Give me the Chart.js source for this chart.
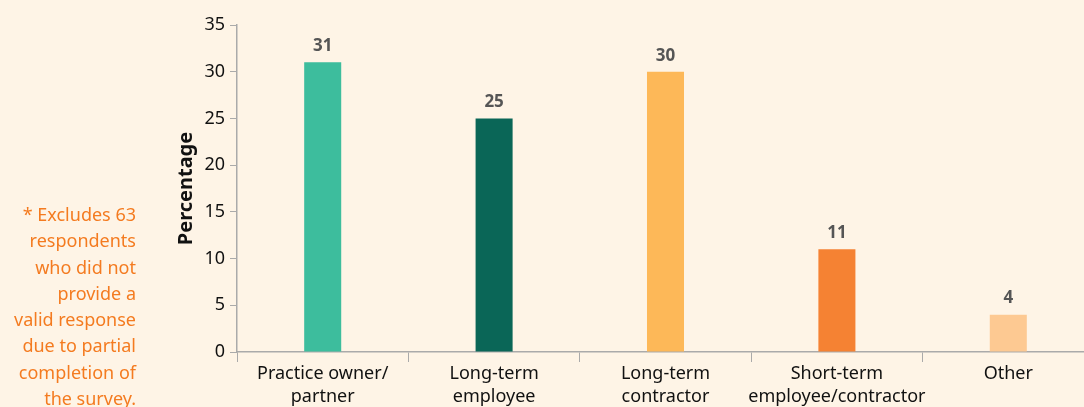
<!DOCTYPE html>
<html>
<head>
<meta charset="utf-8">
<script src="https://cdn.jsdelivr.net/npm/chart.js@4"></script>
<style>
  html, body { margin: 0; padding: 0; background: #fef4e6; overflow: hidden; }
  #wrap { position: relative; width: 1084px; height: 407px; overflow: hidden; }
  #chart { position: absolute; left: 0; top: 0; }
  #note {
    position: absolute; left: 0; top: 201px; width: 136px;
    text-align: right; color: #f47b20;
    font-family: 'Noto Sans', sans-serif; font-size: 18px; line-height: 26.3px;
    white-space: nowrap;
  }
</style>
</head>
<body>
<div id="wrap">
  <canvas id="chart" width="1096" height="407"></canvas>
  <div id="note">* Excludes 63<br>respondents<br>who did not<br>provide a<br>valid response<br>due to partial<br>completion of<br>the survey.</div>
</div>
<script>
// Data
const categories = [
    ['Practice owner/', 'partner'],
    ['Long-term', 'employee'],
    ['Long-term', 'contractor'],
    ['Short-term', 'employee/contractor'],
    'Other'
];
const percentages = [31, 25, 30, 11, 4];
const barColors = ['#3dbd9d', '#0a6657', '#fdb858', '#f58233', '#fdc992'];
const yTicks = [0, 5, 10, 15, 20, 25, 30, 35];

// Value labels above each bar
const valueLabels = {
    id: 'valueLabels',
    afterDatasetsDraw(chart) {
        const ctx = chart.ctx;
        const meta = chart.getDatasetMeta(0);
        ctx.save();
        ctx.font = 'bold 17px "Noto Sans", sans-serif';
        ctx.fillStyle = '#555555';
        ctx.textAlign = 'center';
        ctx.textBaseline = 'middle';
        meta.data.forEach((bar, i) => {
            ctx.fillText(percentages[i], bar.x, bar.y - 16);
        });
        ctx.restore();
    }
};

const ctx = document.getElementById('chart').getContext('2d');
const chart = new Chart(ctx, {
    type: 'bar',
    data: {
        labels: categories,
        datasets: [{
            data: percentages,
            backgroundColor: barColors,
            barPercentage: 0.216,
            categoryPercentage: 1
        }]
    },
    options: {
        responsive: false,
        animation: false,
        layout: { padding: { left: 150, top: 25, right: 2, bottom: 0 } },
        plugins: {
            legend: { display: false },
            tooltip: { enabled: false }
        },
        scales: {
            x: {
                grid: {
                    offset: true,
                    drawOnChartArea: false,
                    color: '#aaaaaa',
                    tickLength: 10
                },
                border: { color: '#aaaaaa', width: 1.5 },
                ticks: {
                    color: '#111111',
                    font: { family: 'Noto Sans', size: 18, lineHeight: 1.3 },
                    maxRotation: 0,
                    autoSkip: false,
                    padding: 0
                },
                afterFit(scale) { scale.height = 55; }
            },
            y: {
                min: 0,
                max: 35,
                afterBuildTicks(scale) { scale.ticks = yTicks.map(v => ({ value: v })); },
                grid: {
                    drawOnChartArea: false,
                    color: '#aaaaaa',
                    tickLength: 7
                },
                border: { color: '#aaaaaa', width: 1.5 },
                ticks: {
                    color: '#111111',
                    font: { family: 'Noto Sans', size: 18 },
                    padding: 5
                },
                title: {
                    display: true,
                    text: 'Percentage',
                    color: '#111111',
                    font: { family: 'Noto Sans', size: 20, weight: 'bold' },
                    padding: { top: 24, bottom: 0 }
                },
                afterFit(scale) { scale.width = 87; }
            }
        }
    },
    plugins: [valueLabels]
});
</script>
</body>
</html>
